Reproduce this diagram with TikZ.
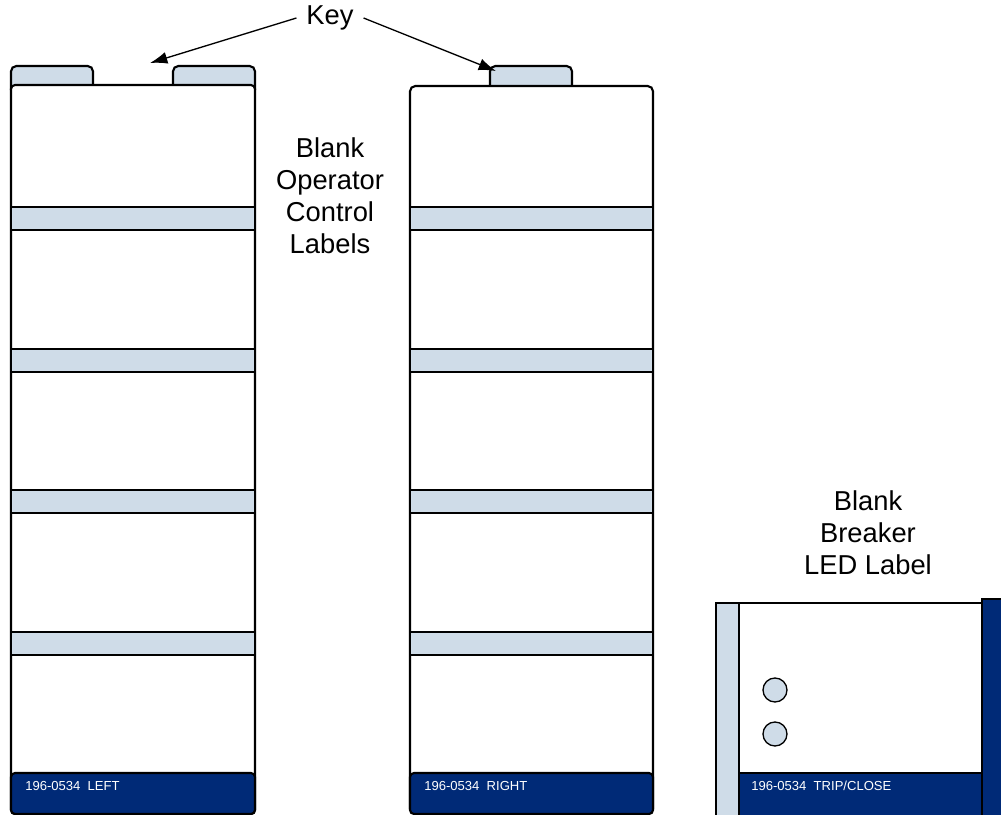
\documentclass[tikz,border=0pt]{standalone}
\usepackage{fontspec}
\setmainfont{Liberation Sans}
\usetikzlibrary{arrows.meta}

\definecolor{tabblue}{HTML}{CFDCE8}
\definecolor{navy}{HTML}{002A77}

\begin{document}
\begin{tikzpicture}[x=0.75pt,y=-0.75pt,
    outline/.style={draw=black,line width=1.6pt},
    band/.style={outline,fill=tabblue},
    partno/.style={anchor=west,text=white,inner sep=0pt,font=\fontsize{9.8}{11}\selectfont},
    caption/.style={align=center,font=\fontsize{20.5}{24}\selectfont},
    keyarrow/.style={line width=1pt,-{Latex[length=13pt,width=9pt]}},
    led/.style={circle,draw=black,line width=1pt,fill=tabblue,minimum size=18pt,inner sep=0pt}]
        \clip (0,0) rectangle (1001,815);

        % Left operator label with two tabs
        \draw[band,rounded corners=4pt] (11,95) rectangle (93,66);
        \draw[band,rounded corners=4pt] (173,95) rectangle (255,66);
        \draw[outline,fill=white,rounded corners=3pt] (11,85) rectangle (255,814);
        \foreach \y in {207,349,490,632}
            \draw[band] (11,\y) rectangle (255,\y+23);
        \draw[outline,fill=navy,rounded corners=3pt] (11,773) rectangle (255,814);
        \node[partno] (leftno) at (25,786) {196-0534\ \ LEFT};

        % Right operator label with one tab
        \draw[band,rounded corners=4pt] (490,95) rectangle (572,66);
        \draw[outline,fill=white,rounded corners=4pt] (410,86) rectangle (653,814);
        \foreach \y in {207,349,490,632}
            \draw[band] (410,\y) rectangle (653,\y+23);
        \draw[outline,fill=navy,rounded corners=3pt] (410,773) rectangle (653,814);
        \node[partno] (rightno) at (424,786) {196-0534\ \ RIGHT};

        % Breaker LED label
        \draw[outline,fill=tabblue] (716,603) rectangle (739,818);
        \draw[outline,fill=white] (739,603) rectangle (982,773);
        \draw[outline,fill=navy] (739,773) rectangle (982,818);
        \draw[outline,fill=navy] (982,599) rectangle (1006,818);
        \node[led] (trip) at (775,690) {};
        \node[led] (close) at (775,734) {};
        \node[partno] (ledno) at (751,786) {196-0534\ \ TRIP/CLOSE};

        % Captions
        \node[caption] (blankop) at (330,196) {Blank\\Operator\\Control\\Labels};
        \node[caption] (blankled) at (868,533) {Blank\\Breaker\\LED Label};

        % Key arrows
        \node[caption] (key) at (330,18) {Key};
        \coordinate (keyleft) at (150,63);
        \coordinate (keyright) at (496,71);
        \draw[keyarrow] (key.west) ++(-4pt,0) -- (keyleft);
        \draw[keyarrow] (key.east) ++(4pt,0) -- (keyright);
\end{tikzpicture}
\end{document}
